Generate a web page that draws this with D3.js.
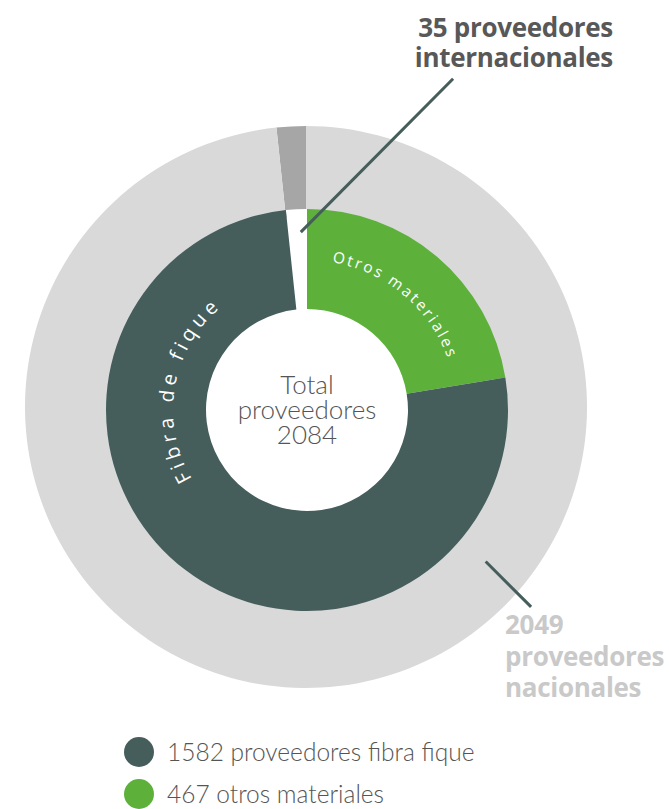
<!DOCTYPE html>
<meta charset="utf-8">
<script src="https://d3js.org/d3.v7.min.js"></script>
<style>
  body { margin: 0; background: #fff; }
  svg text { font-family: Lato, "Open Sans", sans-serif; }
</style>
<div id="chart"></div>
<script>

// data
var total = 2084;
var interiorNames = ["Internacionales", "Otros materiales", "Fibra de fique"];
var interiorValues = [35, 467, 1582];
var exteriorNames = ["Internacionales", "Nacionales"];
var exteriorValues = [35, 2049];
var legendValues = [1582, 467];
var legendLabels = ["proveedores fibra fique", "otros materiales"];

var colorsInterior = ["#ffffff", "#5db13b", "#455e5c"];
var colorsExterior = ["#a6a6a6", "#d9d9d9"];

var width = 669, height = 809;

var svg = d3.select("#chart")
  .append("svg")
    .attr("width", width)
    .attr("height", height);

// both rings start so that the 35 internacionales end right at 12 o'clock
var start = -2 * Math.PI * interiorValues[0] / total;

var pie = d3.pie().sort(null)
  .startAngle(start)
  .endAngle(start + 2 * Math.PI);

// outer ring
var gOuter = svg.append("g")
  .attr("transform", "translate(306,407)");

var arcOuter = d3.arc().innerRadius(190).outerRadius(281);

gOuter.selectAll("path")
  .data(pie(exteriorValues))
  .enter()
  .append("path")
    .attr("d", arcOuter)
    .attr("fill", function(d, i) { return colorsExterior[i]; });

// inner ring
var gInner = svg.append("g")
  .attr("transform", "translate(307,410)");

var arcInner = d3.arc().innerRadius(101).outerRadius(201);

gInner.selectAll("path")
  .data(pie(interiorValues))
  .enter()
  .append("path")
    .attr("d", arcInner)
    .attr("fill", function(d, i) { return colorsInterior[i]; });

// curved labels
function arcPath(r, a0, a1) {
  var p = d3.path();
  p.arc(0, 0, r, a0 - Math.PI / 2, a1 - Math.PI / 2, false);
  return p.toString();
}
var deg = Math.PI / 180;

gInner.append("path")
  .attr("id", "pathFibra")
  .attr("d", arcPath(134, 200 * deg, 360 * deg))
  .attr("fill", "none");
gInner.append("path")
  .attr("id", "pathOtros")
  .attr("d", arcPath(150, 0, 80 * deg))
  .attr("fill", "none");

gInner.append("text")
  .style("font-family", "'Open Sans', sans-serif")
  .style("font-size", "20px")
  .style("letter-spacing", "4.5px")
  .attr("fill", "#fff")
  .append("textPath")
    .attr("href", "#pathFibra")
    .attr("startOffset", "50%")
    .attr("text-anchor", "middle")
    .text(interiorNames[2]);

gInner.append("text")
  .style("font-family", "'Open Sans', sans-serif")
  .style("font-size", "15.5px")
  .style("letter-spacing", "2.4px")
  .attr("fill", "#fff")
  .append("textPath")
    .attr("href", "#pathOtros")
    .attr("startOffset", "50%")
    .attr("text-anchor", "middle")
    .text(interiorNames[1]);

// center text
var center = gInner.append("text")
  .attr("text-anchor", "middle")
  .attr("fill", "#555")
  .style("font-size", "26px")
  .style("font-weight", 300);
["Total", "proveedores", total].forEach(function(t, i) {
  center.append("tspan")
    .attr("x", 0)
    .attr("y", -16 + i * 25)
    .text(t);
});

// leader lines
function polar(r, a) { return [r * Math.sin(a * deg), -r * Math.cos(a * deg)]; }

var l1a = polar(178, -2), l1b = polar(362, 23.8);
gInner.append("line")
  .attr("x1", l1a[0]).attr("y1", l1a[1])
  .attr("x2", l1b[0]).attr("y2", l1b[1])
  .attr("stroke", "#455e5c")
  .attr("stroke-width", 3);

var l2a = polar(237, 130.7), l2b = polar(301, 131.6);
gOuter.append("line")
  .attr("x1", l2a[0]).attr("y1", l2a[1])
  .attr("x2", l2b[0]).attr("y2", l2b[1])
  .attr("stroke", "#455e5c")
  .attr("stroke-width", 3);

// annotations
var intl = svg.append("text")
  .attr("text-anchor", "end")
  .attr("fill", "#585858")
  .style("font-family", "'Open Sans', sans-serif")
  .style("font-weight", 700)
  .style("font-size", "26px")
  .style("letter-spacing", "-0.3px");
[exteriorValues[0] + " proveedores", "internacionales"].forEach(function(t, i) {
  intl.append("tspan").attr("x", 613).attr("y", 37 + i * 30).text(t);
});

var nac = svg.append("text")
  .attr("fill", "#c9c9c9")
  .style("font-family", "'Open Sans', sans-serif")
  .style("font-weight", 700)
  .style("font-size", "26px")
  .style("letter-spacing", "-0.3px");
[exteriorValues[1], "proveedores", "nacionales"].forEach(function(t, i) {
  nac.append("tspan").attr("x", 505).attr("y", 634 + i * 31.5).text(t);
});

// legend
var legend = svg.selectAll(".legend")
  .data(legendValues)
  .enter()
  .append("g")
    .attr("class", "legend")
    .attr("transform", function(d, i) { return "translate(139," + (752 + i * 42) + ")"; });

legend.append("circle")
  .attr("r", 15)
  .attr("fill", function(d, i) { return colorsInterior[2 - i]; });

legend.append("text")
  .attr("x", 28)
  .attr("y", 9)
  .attr("fill", "#555")
  .style("font-size", "24.5px")
  .style("font-weight", 300)
  .text(function(d, i) { return d + " " + legendLabels[i]; });

</script>
